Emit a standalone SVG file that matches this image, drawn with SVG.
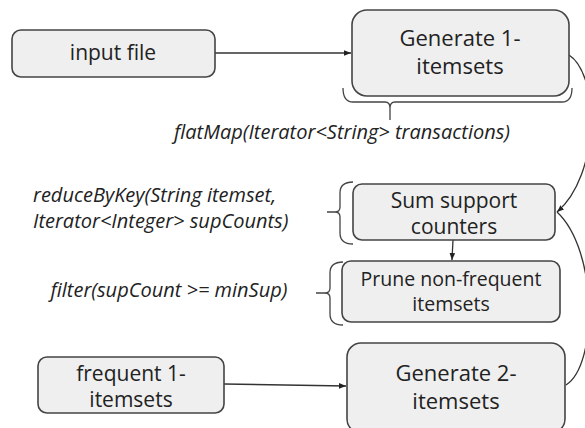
<svg xmlns="http://www.w3.org/2000/svg" width="585" height="428" viewBox="0 0 585 428">
<defs>
<style>
.box{fill:#efefef;stroke:#444;stroke-width:1.6}
.t{font-family:"Open Sans","Noto Sans",sans-serif;font-size:21px;fill:#222;text-anchor:middle}
.g{font-size:22px}
.p{font-size:19.5px}
.it{font-family:"Open Sans","Noto Sans",sans-serif;font-size:20px;font-style:italic;fill:#222}
.ln{fill:none;stroke:#333;stroke-width:1.3}
.br{fill:none;stroke:#444;stroke-width:1.3}
</style>
<marker id="ah" viewBox="0 0 10 10" refX="10" refY="5" markerWidth="7" markerHeight="7" orient="auto" markerUnits="userSpaceOnUse">
<path d="M0,1 L10,5 L0,9 z" fill="#222"/>
</marker>
</defs>
<rect width="585" height="428" fill="#fff"/>
<g id="connectors">
<line class="ln" x1="215" y1="53" x2="351" y2="53" marker-end="url(#ah)"/>
<line class="ln" x1="453" y1="240" x2="452" y2="260" marker-end="url(#ah)"/>
<line class="ln" x1="224" y1="384" x2="346" y2="386" marker-end="url(#ah)"/>
<path class="ln" d="M569,55 C600,75 600,175 557,212" marker-end="url(#ah)"/>
<path class="ln" d="M566,385 C598,365 598,250 557,212"/>
</g>
<g id="braces">
<path class="br" d="M343,88 Q343,102 353,102 L385,102 Q390,102 390,108 L390,120 M390,108 Q390,102 395,102 L562,102 Q572,102 572,88"/>
<path class="br" d="M353,182 Q340,182 340,193 L340,207 Q340,212 335,212 L327,212 M335,212 Q340,212 340,217 L340,233 Q340,244 353,244"/>
<path class="br" d="M343,262 Q330,262 330,273 L330,288 Q330,293 325,293 L316,293 M325,293 Q330,293 330,298 L330,314 Q330,325 343,325"/>
</g>
<g id="input">
<rect class="box" x="12" y="30" width="203" height="47" rx="9"/>
<text class="t" x="113" y="60">input file</text>
</g>
<g id="gen1">
<rect class="box" x="352" y="10" width="217" height="86" rx="15"/>
<text class="t g" x="460" y="46">Generate 1-</text>
<text class="t g" x="460" y="74">itemsets</text>
</g>
<g id="flatmap">
<text class="it" x="342" y="139" text-anchor="middle">flatMap(Iterator&lt;String&gt; transactions)</text>
</g>
<g id="reduce">
<text class="it" x="33" y="202">reduceByKey(String itemset,</text>
<text class="it" x="33" y="228">Iterator&lt;Integer&gt; supCounts)</text>
</g>
<g id="sum">
<rect class="box" x="353" y="184" width="202" height="56" rx="9"/>
<text class="t" x="454" y="208">Sum support</text>
<text class="t" x="454" y="234">counters</text>
</g>
<g id="filter">
<text class="it" x="169" y="297" text-anchor="middle">filter(supCount &gt;= minSup)</text>
</g>
<g id="prune">
<rect class="box" x="342" y="261" width="218" height="61" rx="9"/>
<text class="t p" x="451" y="286">Prune non-frequent</text>
<text class="t p" x="451" y="311">itemsets</text>
</g>
<g id="freq1">
<rect class="box" x="38" y="357" width="186" height="56" rx="9"/>
<text class="t" x="131" y="381">frequent 1-</text>
<text class="t" x="131" y="407">itemsets</text>
</g>
<g id="gen2">
<rect class="box" x="347" y="343" width="218" height="90" rx="14"/>
<text class="t g" x="456" y="381">Generate 2-</text>
<text class="t g" x="456" y="409">itemsets</text>
</g>
</svg>
